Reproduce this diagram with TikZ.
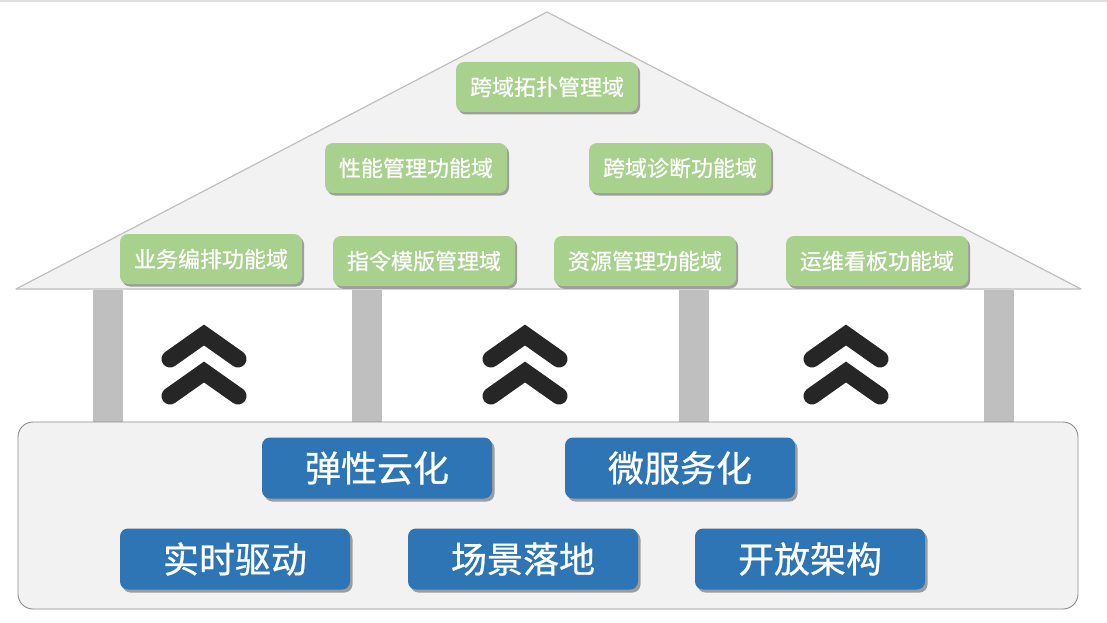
\documentclass[tikz,border=0pt]{standalone}
\usepackage{fontspec}
\setmainfont{Noto Sans CJK SC}
\newfontfamily\boxfont[FakeBold=0.7]{Noto Sans CJK SC}
\usetikzlibrary{shadows}
\definecolor{roofgray}{HTML}{F2F2F2}
\definecolor{roofline}{HTML}{BFBFBF}
\definecolor{boxgreen}{HTML}{A9D18E}
\definecolor{boxblue}{HTML}{2E75B6}
\definecolor{pillargray}{HTML}{BFBFBF}
\definecolor{chevdark}{HTML}{262626}
\definecolor{baseline}{HTML}{8C8C8C}
\begin{document}
\begin{tikzpicture}[x=1pt,y=-1pt,
  greenbox/.style={fill=boxgreen, rounded corners=8pt, minimum width=182pt, minimum height=50pt, inner sep=0pt, text=white, font=\boxfont\fontsize{22}{22}\selectfont,
    drop shadow={shadow xshift=2pt, shadow yshift=-2.5pt, opacity=0.35, fill=black}},
  bluebox/.style={fill=boxblue, rounded corners=8pt, minimum width=230pt, minimum height=61pt, inner sep=0pt, text=white, font=\boxfont\fontsize{36}{36}\selectfont,
    drop shadow={shadow xshift=2.5pt, shadow yshift=-3pt, opacity=0.35, fill=black}},
  pillar/.style={fill=pillargray, draw=none, drop shadow={shadow xshift=1.5pt, shadow yshift=0pt, opacity=0.25, fill=black}},
  chev/.style={draw=chevdark, line width=17pt, line cap=round, line join=miter}
]
\useasboundingbox (0,0) rectangle (1107,623);
\fill[white] (0,0) rectangle (1107,623);
\draw[color=black!12, line width=2pt] (0,1) -- (1107,1);

% pillars
\path[pillar] (93,290) rectangle (121,422);
\path[pillar] (352,290) rectangle (380,422);
\path[pillar] (679,290) rectangle (707,422);
\path[pillar] (984,290) rectangle (1012,422);

% roof
\coordinate (apex) at (547,12);
\coordinate (rl) at (16,289);
\coordinate (rr) at (1081,289);
\filldraw[fill=roofgray, draw=roofline, line width=1.2pt, line join=round] (rl) -- (apex) -- (rr) -- cycle;

% base
\filldraw[fill=roofgray, draw=baseline, line width=0.9pt, rounded corners=15pt] (18,422) rectangle (1078,609);

% chevrons
\foreach \cx in {204,525,846}{
  \draw[chev] (\cx-34,359) -- (\cx,335) -- (\cx+34,359);
  \draw[chev] (\cx-34,396) -- (\cx,372) -- (\cx+34,396);
}

% green boxes
\node[greenbox] (topo) at (547,87) {跨域拓扑管理域};
\node[greenbox] (perf) at (416,168) {性能管理功能域};
\node[greenbox] (diag) at (680,168) {跨域诊断功能域};
\node[greenbox] (orch) at (211,259) {业务编排功能域};
\node[greenbox] (tmpl) at (424,261) {指令模版管理域};
\node[greenbox] (res) at (645,261) {资源管理功能域};
\node[greenbox] (ops) at (877,261) {运维看板功能域};

% blue boxes
\node[bluebox] (cloud) at (377,468) {弹性云化};
\node[bluebox] (micro) at (680,468) {微服务化};
\node[bluebox] (rt) at (235,559) {实时驱动};
\node[bluebox] (scene) at (523,559) {场景落地};
\node[bluebox] (open) at (810,559) {开放架构};
\end{tikzpicture}
\end{document}
